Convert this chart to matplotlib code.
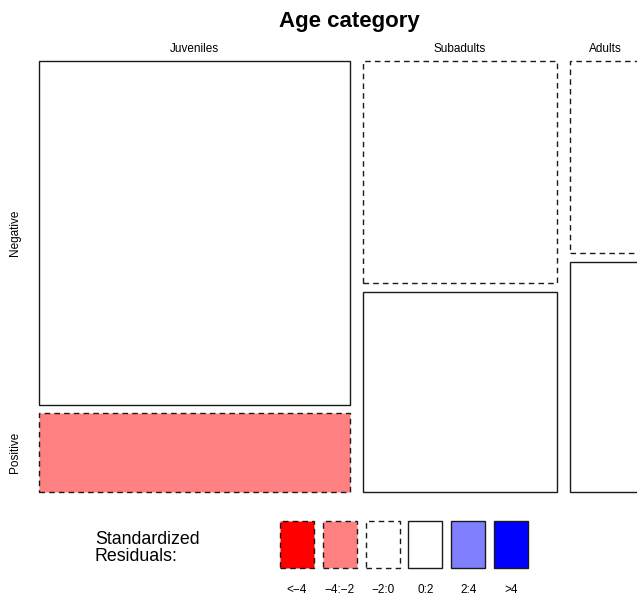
import numpy as np
import matplotlib
matplotlib.use("Agg")
import matplotlib.pyplot as plt
from matplotlib.patches import Rectangle

# ---- data ----
age_categories = ["Juveniles", "Subadults", "Adults"]
status_levels = ["Negative", "Positive"]
negative_counts = [74, 30, 10]
positive_counts = [17, 27, 12]
legend_labels = ["<\u22124", "\u22124:\u22122", "\u22122:0", "0:2", "2:4", ">4"]
legend_breaks = [-np.inf, -4, -2, 0, 2, 4, np.inf]
legend_colors = ["#FF0000", "#FF8080", "#FFFFFF", "#FFFFFF", "#8080FF", "#0000FF"]

plt.rcParams["font.family"] = ["Liberation Sans", "DejaVu Sans"]

W, H = 637, 598
fig = plt.figure(figsize=(W / 100, H / 100), dpi=100)


def px(x0, y0, x1, y1):
    return [x0 / W, 1 - y1 / H, (x1 - x0) / W, (y1 - y0) / H]


EDGE = "#1a1a1a"
DASH = (0, (4, 3))

# Pearson residuals
table = np.array([negative_counts, positive_counts], dtype=float)  # rows: status, cols: age
N = table.sum()
expected = table.sum(axis=1, keepdims=True) * table.sum(axis=0, keepdims=True) / N
resid = (table - expected) / np.sqrt(expected)


def shade(r):
    idx = np.searchsorted(legend_breaks, r, side="right") - 1
    idx = int(np.clip(idx, 0, len(legend_colors) - 1))
    return legend_colors[idx], (DASH if r < 0 else "solid")


# ---- mosaic ----
X0, X1, Y0, Y1 = 39, 645, 61, 492
ax = fig.add_axes(px(X0, Y0, X1, Y1))
ax.set_xlim(0, 1)
ax.set_ylim(0, 1)
ax.axis("off")
gx = 12.5 / (X1 - X0)
gy = 8.5 / (Y1 - Y0)
col_tot = table.sum(axis=0)
col_w = col_tot / N * (1 - gx * (len(age_categories) - 1))
x = 0.0
for j, name in enumerate(age_categories):
    w = col_w[j]
    heights = table[:, j] / col_tot[j] * (1 - gy)
    ytop = 1.0
    for i in range(len(status_levels)):
        h = heights[i]
        fc, ls = shade(resid[i, j])
        ax.add_patch(Rectangle((x, ytop - h), w, h, facecolor=fc, edgecolor=EDGE,
                               linewidth=1.0, linestyle=ls, clip_on=False))
        ytop -= h + gy
    label_x = min(x + w / 2, (605 - X0) / (X1 - X0))
    ax.annotate(name, xy=(label_x, 1), xycoords=("data", "axes fraction"),
                xytext=(0, 9.0), textcoords="offset points", ha="center", va="center",
                fontsize=8.5)
    x += w + gx

# row labels (positions from first column)
hj = table[:, 0] / col_tot[0] * (1 - gy)
ytop = 1.0
for i, name in enumerate(status_levels):
    ax.annotate(name, xy=(0, ytop - hj[i] / 2), xycoords=("axes fraction", "data"),
                xytext=(-17.5, 0), textcoords="offset points", ha="center", va="center",
                rotation=90, fontsize=8.5)
    ytop -= hj[i] + gy

fig.text(349 / W, 1 - 22 / H, "Age category", ha="center", va="center",
         fontsize=16, fontweight="bold")

# ---- legend ----
fig.text(95 / W, 1 - 548 / H, "Standardized\nResiduals:", ha="left", va="center",
         fontsize=12.8, linespacing=1.05)
lax = fig.add_axes(px(280, 521, 528, 568))
bw = 34 / 43
lax.set_xlim(0, len(legend_colors) - 1 + bw)
lax.set_ylim(0, 1)
lax.axis("off")
for k, (lab, col) in enumerate(zip(legend_labels, legend_colors)):
    ls = DASH if legend_breaks[k + 1] <= 0 else "solid"
    lax.add_patch(Rectangle((k, 0), bw, 1, facecolor=col, edgecolor=EDGE,
                            linewidth=1.0, linestyle=ls, clip_on=False))
    lax.annotate(lab, xy=(k + bw / 2, 0), xycoords="data", xytext=(0, -15.5),
                 textcoords="offset points", ha="center", va="center", fontsize=8.5)

fig.savefig("out.png", dpi=100)
